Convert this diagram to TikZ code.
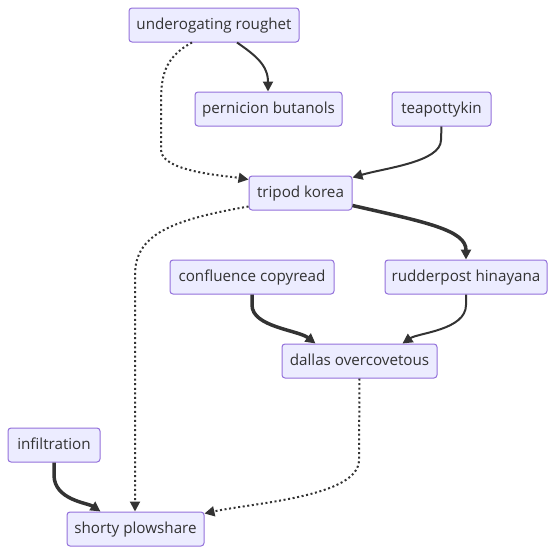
\documentclass[tikz,border=0pt]{standalone}
\usepackage{fontspec}
\setmainfont{Open Sans}
\usetikzlibrary{arrows.meta,calc}
\definecolor{nfill}{HTML}{ECECFF}
\definecolor{nborder}{HTML}{9370DB}
\definecolor{eline}{HTML}{333333}
\begin{document}
\begin{tikzpicture}[x=1pt,y=-1pt,
  box/.style={draw=nborder,fill=nfill,line width=1pt,rounded corners=3pt,
    minimum height=34pt,inner sep=0pt,text height=11pt,text depth=1.5pt,
    text=eline,font=\fontsize{15.2}{17}\selectfont},
  edge/.style={draw=eline,line width=2pt,-{Triangle[length=10pt,width=10pt]}},
  thick edge/.style={edge,line width=3.5pt},
  dot edge/.style={edge,dash pattern=on 2pt off 2.6pt}]
\useasboundingbox (0,0) rectangle (555,554);
\node[box,minimum width=170pt] (u) at (214,25) {underogating roughet};
\node[box,minimum width=147pt] (p) at (268.5,109) {pernicion butanols};
\node[box,minimum width=99pt] (tk) at (441.5,109) {teapottykin};
\node[box,minimum width=103pt] (t) at (300.5,193) {tripod korea};
\node[box,minimum width=164pt] (c) at (252,277) {confluence copyread};
\node[box,minimum width=162pt] (r) at (466,277) {rudderpost hinayana};
\node[box,minimum width=155pt] (d) at (359.5,361) {dallas overcovetous};
\node[box,minimum width=92pt] (i) at (54,445) {infiltration};
\node[box,minimum width=137pt] (s) at (135.5,529) {shorty plowshare};
% edges
\draw[edge] ($(u.south)+(23,0)$) .. controls (255,55) and (268,65) .. (p.north -| 268,0);
\draw[dot edge] ($(u.south)+(-22,0)$) .. controls (163,58) and (161,78) .. (161,105) -- (161,150)
  .. controls (161,172) and (228,176) .. ($(t.north west)+(0,4)$);
\draw[edge] (tk.south) -- (441,140) .. controls (441,162) and (385,168) .. ($(t.north east)+(0,2)$);
\draw[thick edge] ($(t.south east)+(0,-5)$) .. controls (425,222) and (466,230) .. (r.north);
\draw[dot edge] ($(t.south west)+(0,-4)$) .. controls (170,220) and (135,235) .. (135,275) -- (s.north -| 135,0);
\draw[thick edge] (c.south) -- (252,305) .. controls (252,327) and (298,330) .. ($(d.north west)+(34,0)$);
\draw[edge] (r.south) -- (466,305) .. controls (466,330) and (418,333) .. ($(d.north east)+(-35,0)$);
\draw[dot edge] (d.south) -- (359,460) .. controls (359,497) and (252,503) .. ($(s.north east)+(0,2)$);
\draw[thick edge] (i.south) -- (54,475) .. controls (54,500) and (88,503) .. ($(s.north west)+(34,0)$);
\end{tikzpicture}
\end{document}
